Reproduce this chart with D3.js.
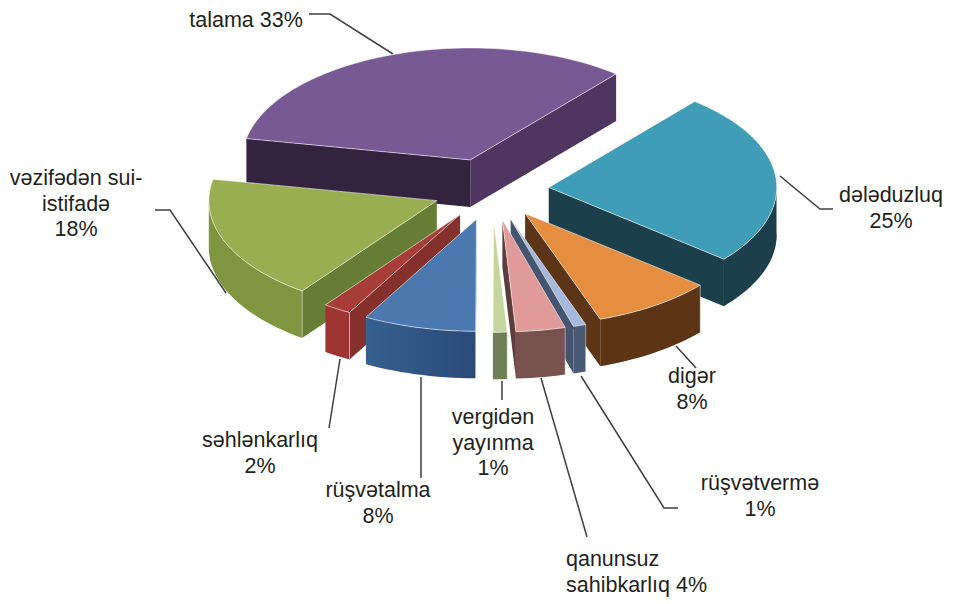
<!DOCTYPE html>
<html>
<head>
<meta charset="utf-8">
<script src="https://cdn.jsdelivr.net/npm/d3@7"></script>
<style>
  html, body { margin: 0; background: #fff; }
  text { font-family: "Liberation Sans", Arial, sans-serif; font-size: 21.5px; fill: #231f20; }
</style>
</head>
<body>
<svg id="chart"></svg>
<script>
// clockwise from the talama slice; drawn sizes
const categories = ['talama', 'dələduzluq', 'digər', 'rüşvətvermə', 'qanunsuz sahibkarlıq', 'vergidən yayınma', 'rüşvətalma', 'səhlənkarlıq', 'vəzifədən sui-istifadə'];
const percents = [33, 25, 8.6, 0.9, 3.5, 1, 8, 2, 18];

const topColors = ['#775a94', '#3f9db8', '#e58e3f', '#a5b9dd', '#df9a99', '#c4d69d', '#4b78ae', '#a83c38', '#99ae50'];
const startWall = ['#34233f', '#1b3f4b', '#5b3516', '#455570', '#78524f', '#6f8055', '#2f5280', '#86302e', '#667d35'];
const endWall = ['#4f3660', '#1b3f4b', '#5b3516', '#455570', '#5c3d3b', '#6f8055', '#2f5280', '#86302e', '#667d35'];
const outerWall = ['#4f3660', '#1b3f4b', '#5b3516', '#4a5a75', '#78524f', '#6f8055', 'url(#blueSide)', '#9e3533', '#7f9540'];

// label text lines, anchor x and first baseline
const labelLines = [
  ['talama 33%'],
  ['dələduzluq', '25%'],
  ['digər', '8%'],
  ['rüşvətvermə', '1%'],
  ['qanunsuz', 'sahibkarlıq 4%'],
  ['vergidən', 'yayınma', '1%'],
  ['rüşvətalma', '8%'],
  ['səhlənkarlıq', '2%'],
  ['vəzifədən sui-', 'istifadə', '18%']
];
const labelX = [246, 891, 692, 760, 566, 493, 378, 260, 76];
const labelY = [27, 202, 383, 490, 566, 424, 497, 447, 185];
const labelAnchor = ['middle', 'middle', 'middle', 'middle', 'start', 'middle', 'middle', 'middle', 'middle'];

const leaders = [
  [[309, 14], [330, 14], [393, 54]],
  [[780, 176], [820, 209], [833, 209]],
  [[676, 346], [696, 368]],
  [[581, 376], [664, 508], [678, 508]],
  [[541, 378], [587, 537]],
  [[502, 381], [502, 400]],
  [[421, 377], [421, 478]],
  [[340, 359], [329, 428]],
  [[226, 293], [170, 210], [155, 210]]
];

const width = 955, height = 604;
const cx = 492, cy = 190, rx = 228, ry = 112;
const explode = [0.285, 0.25, 0.255, 0.27, 0.27, 0.27, 0.27, 0.26, 0.26];  // fraction of the radius each slice is pulled out
const depth = 47;
const rad = Math.PI / 180;

const svg = d3.select('#chart').attr('width', width).attr('height', height);

const grad = svg.append('defs').append('linearGradient').attr('id', 'blueSide');
grad.append('stop').attr('offset', '0%').attr('stop-color', '#36608f');
grad.append('stop').attr('offset', '100%').attr('stop-color', '#2a4a78');

const xScale = d3.scaleLinear().domain([-1, 1]).range([cx - rx, cx + rx]);
const yScale = d3.scaleLinear().domain([-1, 1]).range([cy - ry, cy + ry]);

const pie = d3.pie().sort(null).value(d => d)
  .startAngle(-79 * rad).endAngle(281 * rad);

const slices = pie(percents).map((d, i) => {
  const mid = (d.startAngle + d.endAngle) / 2;
  return {
    i,
    start: d.startAngle,
    end: d.endAngle,
    mid,
    ox: explode[i] * Math.sin(mid),
    oy: -explode[i] * Math.cos(mid)
  };
});

const line = d3.line();

// screen point of a slice at fraction r of the radius, dropped by dz
function point(s, angle, r, dz) {
  return [
    xScale(s.ox + r * Math.sin(angle)),
    yScale(s.oy - r * Math.cos(angle)) + dz
  ];
}

function arcPoints(s, a, b, dz) {
  const n = Math.max(2, Math.ceil((b - a) / (2 * rad)));
  return d3.range(n + 1).map(k => point(s, a + (b - a) * k / n, 1, dz));
}

// leader lines sit under the slices
svg.append('g').selectAll('path')
  .data(leaders)
  .join('path')
  .attr('d', d => line(d))
  .attr('fill', 'none')
  .attr('stroke', '#3f3f3f')
  .attr('stroke-width', 1.5);

// painter's order, back to front
const ordered = slices.slice().sort((p, q) => d3.ascending(-Math.cos(p.mid), -Math.cos(q.mid)));

const sliceG = svg.append('g').selectAll('g')
  .data(ordered)
  .join('g');

sliceG.each(function(s) {
  const g = d3.select(this);
  const apex = point(s, 0, 0, 0);
  const apexLow = point(s, 0, 0, depth);

  // start cut face shows on the left half, end cut face on the right half
  if (Math.sin(s.start) < 0) {
    g.append('path')
      .attr('d', line([apex, point(s, s.start, 1, 0), point(s, s.start, 1, depth), apexLow]) + 'Z')
      .attr('fill', startWall[s.i]);
  }
  if (Math.sin(s.end) > 0) {
    g.append('path')
      .attr('d', line([apex, point(s, s.end, 1, 0), point(s, s.end, 1, depth), apexLow]) + 'Z')
      .attr('fill', endWall[s.i]);
  }

  // outer rim, only the part that faces the viewer
  const a = Math.max(s.start, 90 * rad), b = Math.min(s.end, 270 * rad);
  if (b > a) {
    const upper = arcPoints(s, a, b, 0);
    const lower = arcPoints(s, a, b, depth).reverse();
    g.append('path')
      .attr('d', line(upper.concat(lower)) + 'Z')
      .attr('fill', outerWall[s.i]);
    g.append('path')
      .attr('d', line([point(s, a, 1, 0), point(s, a, 1, depth)]))
      .attr('stroke', '#fff')
      .attr('stroke-opacity', 0.45);
  }

  g.append('path')
    .attr('d', line([apex].concat(arcPoints(s, s.start, s.end, 0))) + 'Z')
    .attr('fill', topColors[s.i])
    .attr('stroke', '#fff')
    .attr('stroke-opacity', 0.7)
    .attr('stroke-width', 0.8)
    .attr('stroke-linejoin', 'round');
});

// labels
const labels = svg.append('g').selectAll('text')
  .data(labelLines)
  .join('text')
  .attr('text-anchor', (d, i) => labelAnchor[i])
  .attr('transform', (d, i) => `translate(${labelX[i]},${labelY[i]})`);

labels.selectAll('tspan')
  .data(d => d)
  .join('tspan')
  .attr('x', 0)
  .attr('y', (d, i) => i * 25.5)
  .text(d => d);
</script>
</body>
</html>
